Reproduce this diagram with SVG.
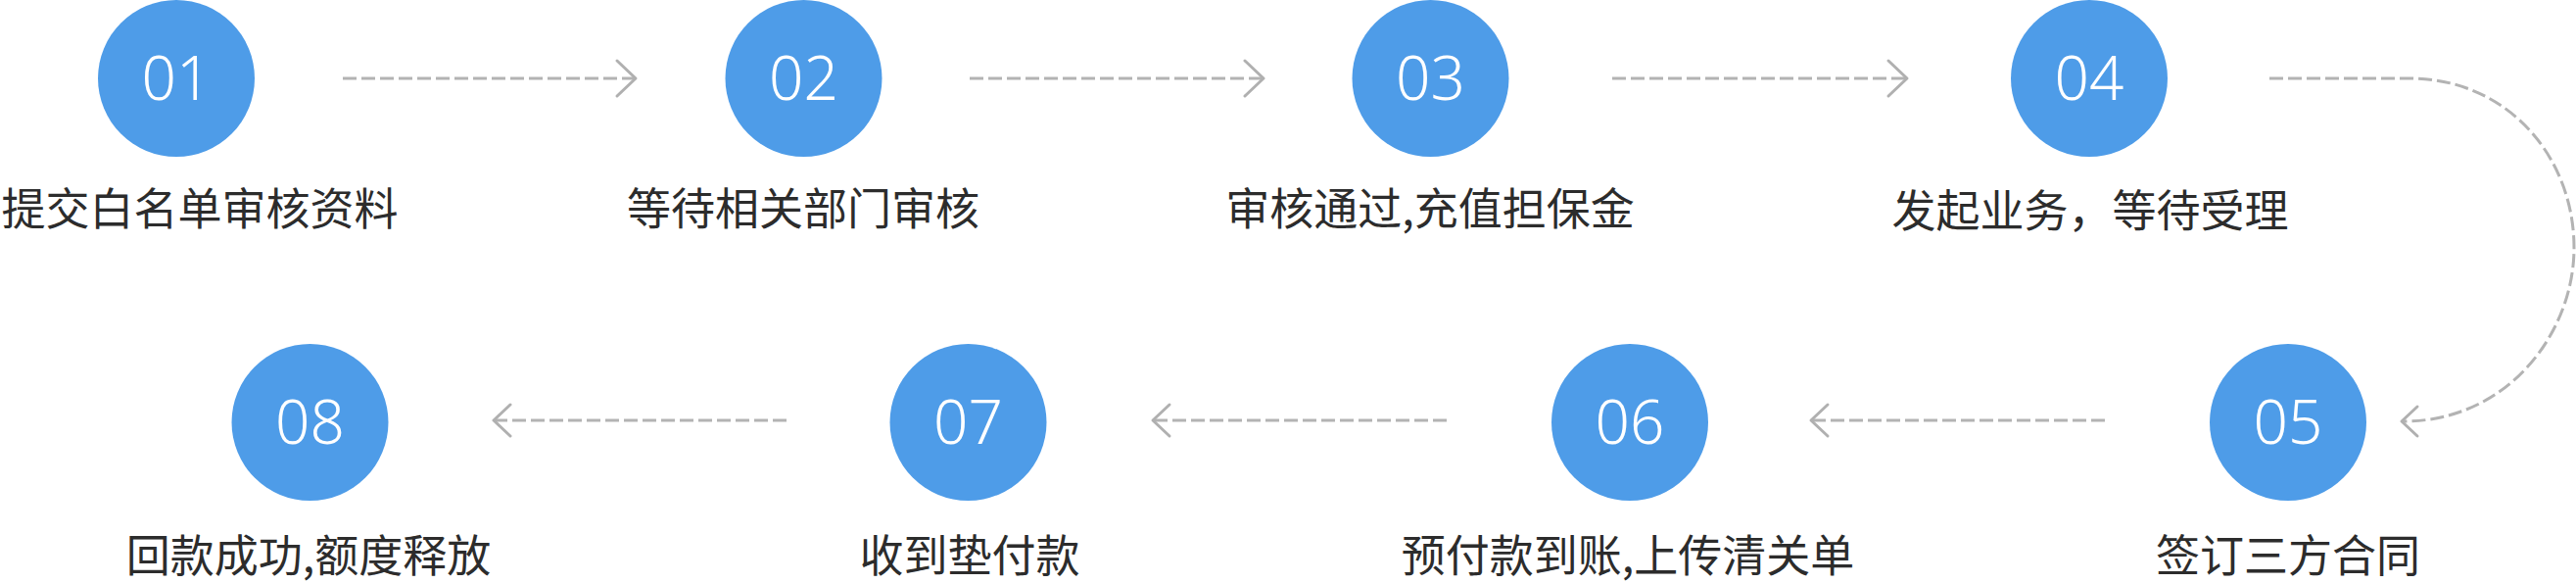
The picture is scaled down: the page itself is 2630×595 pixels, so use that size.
<svg xmlns="http://www.w3.org/2000/svg" width="2630" height="595" viewBox="0 0 2630 595">
<style>
.c{fill:#4e9ce8}
.n{font-family:"Noto Sans","Noto Sans CJK SC",sans-serif;font-weight:300;font-size:62px;fill:#fff;text-anchor:middle}
.t{font-family:"Noto Sans CJK SC","Noto Sans",sans-serif;font-size:45px;fill:#2c2c2c;text-anchor:middle}
.d{fill:none;stroke:#b3b3b3;stroke-width:3;stroke-dasharray:14 5}
.h{fill:none;stroke:#b0b0b0;stroke-width:3;stroke-linecap:round;stroke-linejoin:round}
</style>
<rect width="2630" height="595" fill="#fff"/>
<g id="connectors">
<line class="d" x1="350" y1="80" x2="648" y2="80"/><polyline class="h" points="630,62 649,80 630,98"/>
<line class="d" x1="990" y1="80" x2="1288" y2="80"/><polyline class="h" points="1271,62 1290,80 1271,98"/>
<line class="d" x1="1646" y1="80" x2="1945" y2="80"/><polyline class="h" points="1928,62 1947,80 1928,98"/>
<path class="d" d="M2317,80 H2460 C2560,80 2628,160 2628,253 C2628,340 2560,430 2454,430"/><polyline class="h" points="2468,415 2452,430 2468,445"/>
<line class="d" x1="2149" y1="429" x2="1850" y2="429"/><polyline class="h" points="1866,413 1849,429 1866,445"/>
<line class="d" x1="1477" y1="429" x2="1178" y2="429"/><polyline class="h" points="1194,413 1177,429 1194,445"/>
<line class="d" x1="803" y1="429" x2="505" y2="429"/><polyline class="h" points="521,413 504,429 521,445"/>
</g>
<g id="node01"><circle class="c" cx="180" cy="80" r="80"/><text class="n" x="180" y="102">01</text><text class="t" x="204" y="230">提交白名单审核资料</text></g>
<g id="node02"><circle class="c" cx="820.5" cy="80" r="80"/><text class="n" x="820.5" y="102">02</text><text class="t" x="820" y="230">等待相关部门审核</text></g>
<g id="node03"><circle class="c" cx="1460.5" cy="80" r="80"/><text class="n" x="1460.5" y="102">03</text><text class="t" x="1460" y="230">审核通过,充值担保金</text></g>
<g id="node04"><circle class="c" cx="2133" cy="80" r="80"/><text class="n" x="2133" y="102">04</text><text class="t" x="2134" y="232">发起业务，等待受理</text></g>
<g id="node05"><circle class="c" cx="2336" cy="431" r="80"/><text class="n" x="2336" y="453">05</text><text class="t" x="2336" y="584">签订三方合同</text></g>
<g id="node06"><circle class="c" cx="1664" cy="431" r="80"/><text class="n" x="1664" y="453">06</text><text class="t" x="1662" y="584">预付款到账,上传清关单</text></g>
<g id="node07"><circle class="c" cx="988.5" cy="431" r="80"/><text class="n" x="988.5" y="453">07</text><text class="t" x="990" y="584">收到垫付款</text></g>
<g id="node08"><circle class="c" cx="316.5" cy="431" r="80"/><text class="n" x="316.5" y="453">08</text><text class="t" x="315" y="584">回款成功,额度释放</text></g>
</svg>
